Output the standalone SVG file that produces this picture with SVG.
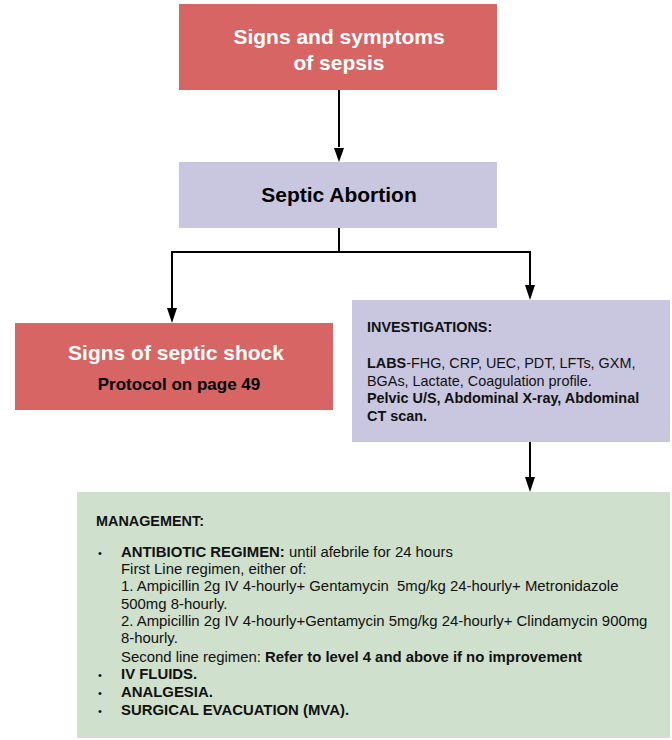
<svg xmlns="http://www.w3.org/2000/svg" width="672" height="740" viewBox="0 0 672 740">
<style>
.red{fill:#D66564}
.lav{fill:#C9C7E0}
.grn{fill:#CFE0CD}
text{font-family:"Liberation Sans",Arial,sans-serif}
.tw{fill:#fff;font-weight:bold;font-size:21px;text-anchor:middle}
.tb{fill:#000;font-weight:bold;font-size:21px;text-anchor:middle}
.inv{fill:#111;font-size:14.4px}
.sm{fill:#111;font-size:14.9px}
.bul{fill:#111;font-size:11px}
.b{font-weight:bold}
.conn{stroke:#000;stroke-width:2;fill:none}
</style>
<g id="connectors">
<line class="conn" x1="339" y1="90" x2="339" y2="147"/>
<path d="M334,148 L344,148 L339,162 Z" fill="#000"/>
<path class="conn" d="M339,228 V252 H172 V308"/>
<path d="M167,308 L177,308 L172,323 Z" fill="#000"/>
<path class="conn" d="M339,252 H530 V285"/>
<path d="M525,285 L535,285 L530,300 Z" fill="#000"/>
<line class="conn" x1="530" y1="442" x2="530" y2="477"/>
<path d="M525,477 L535,477 L530,492 Z" fill="#000"/>
</g>
<g id="sepsis">
<rect class="red" x="179" y="4" width="318" height="86"/>
<text class="tw" x="339" y="44">Signs and symptoms</text>
<text class="tw" x="339" y="70">of sepsis</text>
</g>
<g id="septic-abortion">
<rect class="lav" x="179" y="162" width="318" height="66"/>
<text class="tb" x="339" y="202">Septic Abortion</text>
</g>
<g id="septic-shock">
<rect class="red" x="15" y="323" width="318" height="87"/>
<text class="tw" x="176" y="360">Signs of septic shock</text>
<text x="179" y="390" style="font-weight:bold;font-size:17px;text-anchor:middle;fill:#000">Protocol on page 49</text>
</g>
<g id="investigations">
<rect class="lav" x="352" y="300" width="318" height="142"/>
<text class="inv b" x="367" y="332">INVESTIGATIONS:</text>
<text class="inv" x="367" y="368"><tspan class="b">LABS</tspan>-FHG, CRP, UEC, PDT, LFTs, GXM,</text>
<text class="inv" x="367" y="386">BGAs, Lactate, Coagulation profile.</text>
<text class="inv b" x="367" y="403">Pelvic U/S, Abdominal X-ray, Abdominal</text>
<text class="inv b" x="367" y="421">CT scan.</text>
</g>
<g id="management">
<rect class="grn" x="77" y="492" width="593" height="246"/>
<text class="inv b" x="96" y="526">MANAGEMENT:</text>
<text class="bul" x="98" y="557">•</text>
<text class="sm" x="121" y="557"><tspan class="b">ANTIBIOTIC REGIMEN:</tspan> until afebrile for 24 hours</text>
<text class="sm" x="121" y="574">First Line regimen, either of:</text>
<text class="sm" x="121" y="591" xml:space="preserve">1. Ampicillin 2g IV 4-hourly+ Gentamycin  5mg/kg 24-hourly+ Metronidazole</text>
<text class="sm" x="121" y="609">500mg 8-hourly.</text>
<text class="sm" x="121" y="626">2. Ampicillin 2g IV 4-hourly+Gentamycin 5mg/kg 24-hourly+ Clindamycin 900mg</text>
<text class="sm" x="121" y="643">8-hourly.</text>
<text class="sm" x="121" y="662">Second line regimen: <tspan class="b">Refer to level 4 and above if no improvement</tspan></text>
<text class="bul" x="98" y="679">•</text>
<text class="sm b" x="121" y="679">IV FLUIDS.</text>
<text class="bul" x="98" y="697">•</text>
<text class="sm b" x="121" y="697">ANALGESIA.</text>
<text class="bul" x="98" y="715">•</text>
<text class="sm b" x="121" y="715">SURGICAL EVACUATION (MVA).</text>
</g>
</svg>
